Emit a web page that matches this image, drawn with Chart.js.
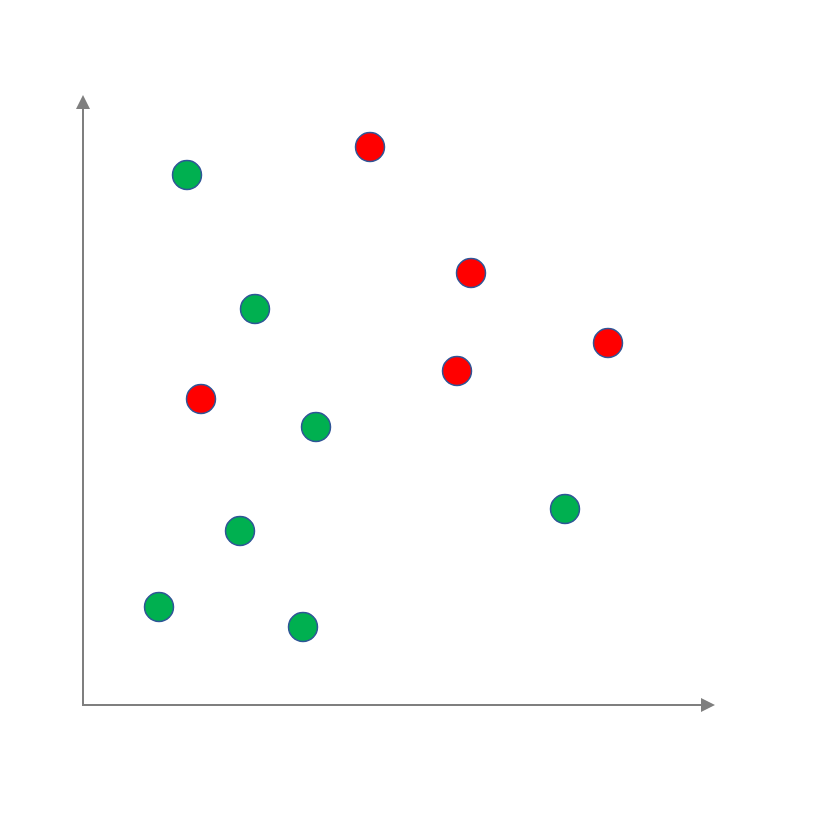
<!DOCTYPE html>
<html>
<head>
<meta charset="utf-8">
<script src="https://cdn.jsdelivr.net/npm/chart.js@4.4.0/dist/chart.umd.min.js"></script>
<style>
  html, body { margin: 0; padding: 0; background: #fff; }
  #wrap { width: 840px; height: 838px; }
</style>
</head>
<body>
<div id="wrap"><canvas id="scatter"></canvas></div>
<script>
// point positions (x to the right, y up from the axes corner)
var greenX = [104, 172, 233, 157, 76, 220, 482];
var greenY = [530, 396, 278, 174, 98, 78, 196];
var redX = [287, 388, 525, 374, 118];
var redY = [558, 432, 362, 334, 306];

var xMax = 632;
var yMax = 610;

function toPoints(xs, ys) {
  var out = [];
  for (var i = 0; i < xs.length; i++) {
    out.push({ x: xs[i], y: ys[i] });
  }
  return out;
}

// axes with arrow heads, drawn on the chart area edges
var arrowAxes = {
  id: 'arrowAxes',
  beforeDatasetsDraw: function(chart) {
    var ctx = chart.ctx;
    var a = chart.chartArea;
    var head = 14, half = 7;
    ctx.save();
    ctx.strokeStyle = '#7f7f7f';
    ctx.fillStyle = '#7f7f7f';
    ctx.lineWidth = 2;
    ctx.beginPath();
    ctx.moveTo(a.left, a.top + head);
    ctx.lineTo(a.left, a.bottom);
    ctx.lineTo(a.right - head, a.bottom);
    ctx.stroke();
    // up arrow
    ctx.beginPath();
    ctx.moveTo(a.left, a.top);
    ctx.lineTo(a.left - half, a.top + head);
    ctx.lineTo(a.left + half, a.top + head);
    ctx.closePath();
    ctx.fill();
    // right arrow
    ctx.beginPath();
    ctx.moveTo(a.right, a.bottom);
    ctx.lineTo(a.right - head, a.bottom - half);
    ctx.lineTo(a.right - head, a.bottom + half);
    ctx.closePath();
    ctx.fill();
    ctx.restore();
  }
};

new Chart(document.getElementById('scatter'), {
  type: 'scatter',
  data: {
    datasets: [{
      label: 'green',
      data: toPoints(greenX, greenY),
      backgroundColor: '#00b050',
      borderColor: '#2f5597',
      borderWidth: 1.5,
      pointRadius: 14.5,
      pointHoverRadius: 14.5
    }, {
      label: 'red',
      data: toPoints(redX, redY),
      backgroundColor: '#ff0000',
      borderColor: '#2f5597',
      borderWidth: 1.5,
      pointRadius: 14.5,
      pointHoverRadius: 14.5
    }]
  },
  options: {
    responsive: true,
    maintainAspectRatio: false,
    animation: false,
    clip: false,
    layout: { padding: { left: 83, top: 95, right: 125, bottom: 133 } },
    plugins: {
      legend: { display: false },
      tooltip: { enabled: false }
    },
    scales: {
      x: {
        type: 'linear', min: 0, max: xMax,
        display: false,
        grid: { display: false }
      },
      y: {
        type: 'linear', min: 0, max: yMax,
        display: false,
        grid: { display: false }
      }
    }
  },
  plugins: [arrowAxes]
});
</script>
</body>
</html>
